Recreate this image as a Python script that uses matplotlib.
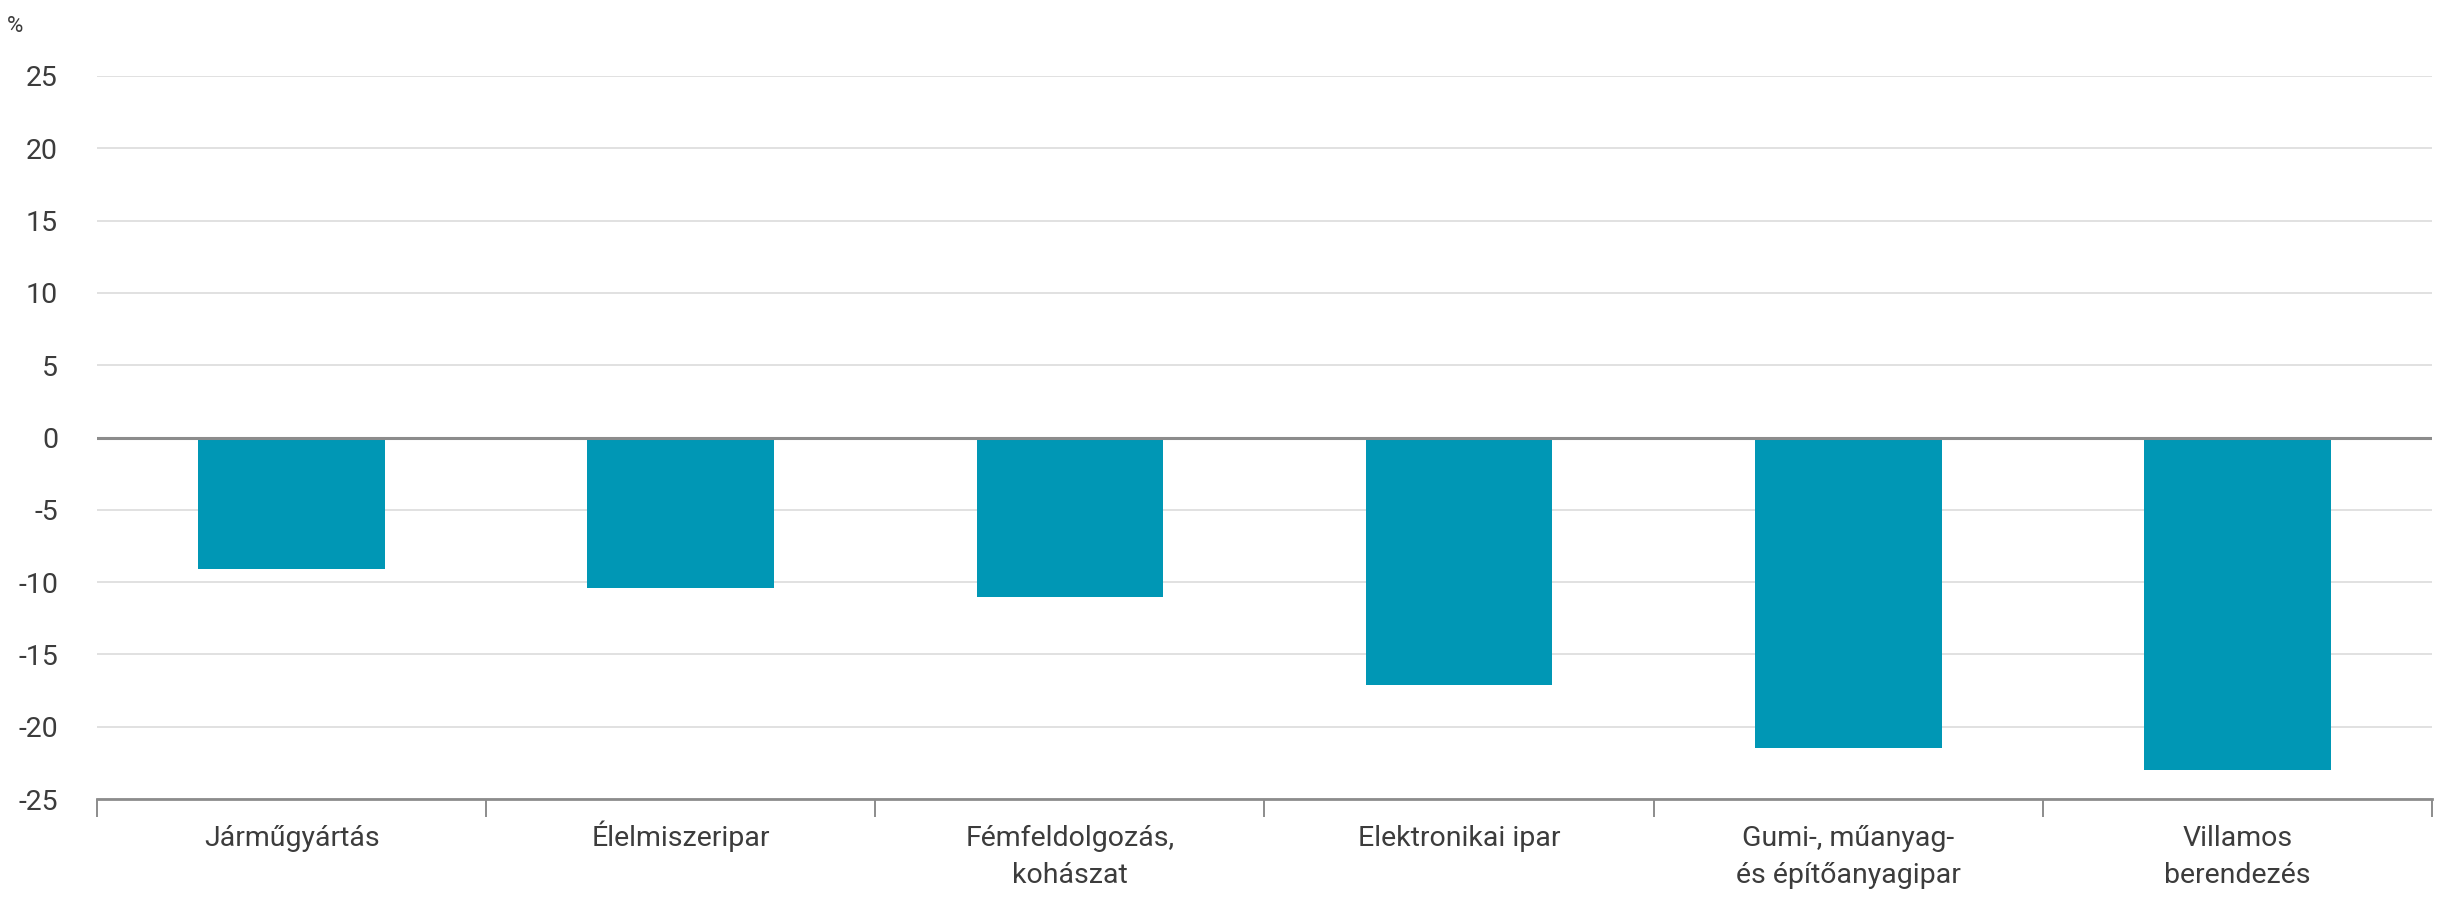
import matplotlib.pyplot as plt
import matplotlib.transforms as mtransforms
import numpy as np

plt.rcParams['font.family'] = ['Roboto', 'DejaVu Sans']

categories = [
    "Járműgyártás",
    "Élelmiszeripar",
    "Fémfeldolgozás,\nkohászat",
    "Elektronikai ipar",
    "Gumi-, műanyag-\nés építőanyagipar",
    "Villamos\nberendezés\ngyártás",
]
values = [-9.1, -10.4, -11.0, -17.1, -21.5, -23.0]
yticks = [-25, -20, -15, -10, -5, 0, 5, 10, 15, 20, 25]

W, H = 2452, 899
DPI = 100
fig = plt.figure(figsize=(W / DPI, H / DPI), dpi=DPI)
# axes placed in pixel coordinates of the reference
x0, x1 = 97, 2432
y_top, y_bot = 76, 799
ax = fig.add_axes([x0 / W, 1 - y_bot / H, (x1 - x0) / W, (y_bot - y_top) / H])

text_col = "#3c3c3c"
x = np.arange(len(categories))

# gridlines
for t in yticks:
    if t == 0:
        continue
    ax.axhline(t, color="#dedede", lw=1.3, zorder=0)

ax.bar(x, values, width=0.48, color="#0097b5", zorder=2)
ax.axhline(0, color="#8c8c8c", lw=2.2, zorder=3)

ax.set_xlim(-0.5, len(categories) - 0.5)
ax.set_ylim(-25, 25)

for s in ["top", "right", "left"]:
    ax.spines[s].set_visible(False)
ax.spines["bottom"].set_color("#8c8c8c")
ax.spines["bottom"].set_linewidth(2)

ax.set_yticks(yticks)
ax.set_yticklabels([str(t) for t in yticks])
ax.tick_params(axis="y", length=0, pad=28, labelsize=20.5, labelcolor=text_col)

# category boundaries as ticks, labels drawn line by line on a common baseline
ax.set_xticks([])
ax.set_xticks(np.arange(-0.5, len(categories)), minor=True)
ax.tick_params(axis="x", which="minor", length=13, width=1.4, color="#8c8c8c")

base = ax.get_xaxis_transform()
first_px, step_px = 47.5, 36.8
for xi, cat in zip(x, categories):
    for k, line in enumerate(cat.split("\n")):
        dy = -(first_px + k * step_px) * 72 / DPI
        tr = mtransforms.offset_copy(base, fig=fig, y=dy, units="points")
        ax.text(xi, 0, line, transform=tr, ha="center", va="baseline",
                fontsize=20.5, color=text_col, clip_on=False)

fig.text(7 / W, 1 - 27 / H, "%", fontsize=16, color=text_col, ha="left", va="center")

fig.savefig("out.png", dpi=DPI, facecolor="white")
